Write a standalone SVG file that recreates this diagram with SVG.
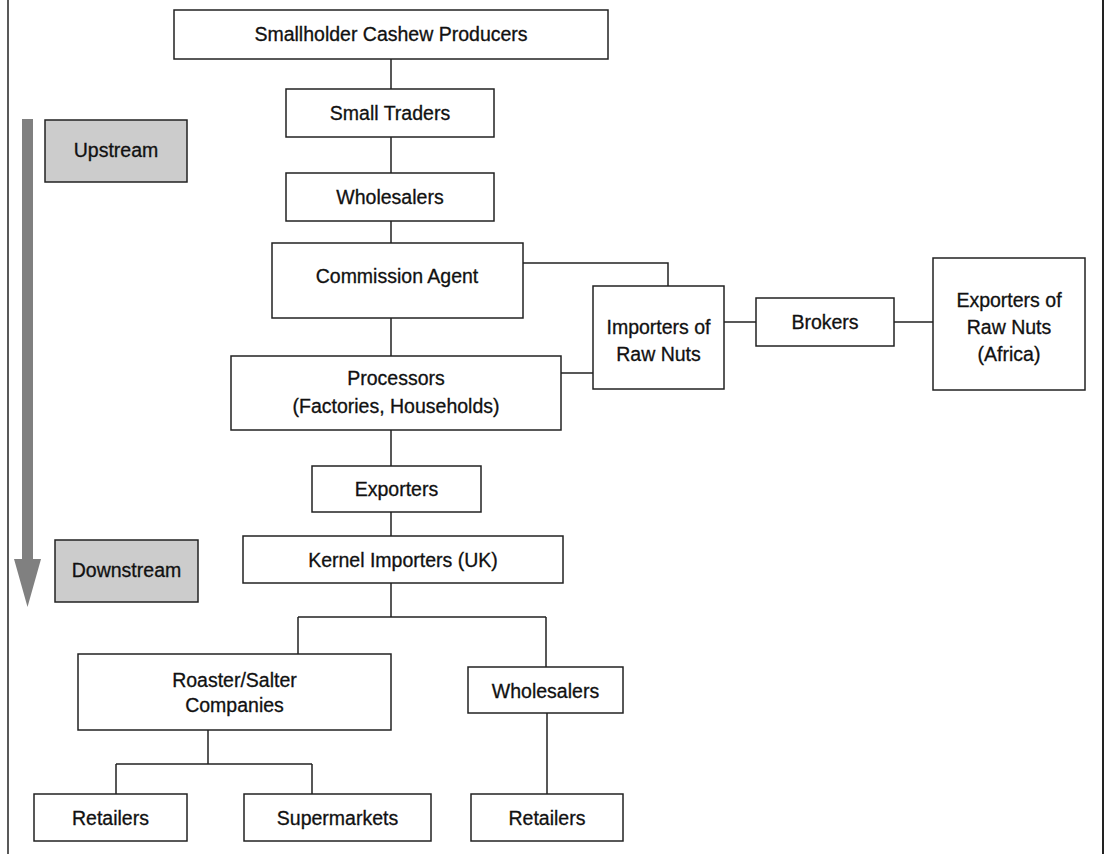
<svg xmlns="http://www.w3.org/2000/svg" width="1105" height="854" viewBox="0 0 1105 854">
<style>
.box{fill:#fff;stroke:#222;stroke-width:1.5}
.tag{fill:#cccccc;stroke:#222;stroke-width:1.5}
.t{font-family:"Liberation Sans",Arial,sans-serif;font-size:19.5px;fill:#111;stroke:#111;stroke-width:0.3;text-anchor:middle}
.c{fill:none;stroke:#222;stroke-width:1.5}
</style>
<rect width="1105" height="854" fill="#fff"/>
<g id="frame">
<line x1="8" y1="0" x2="8" y2="854" stroke="#222" stroke-width="1.5"/>
<line x1="1103" y1="0" x2="1103" y2="854" stroke="#222" stroke-width="2"/>
</g>
<g id="flow-arrow">
<rect x="22" y="119" width="11" height="441" fill="#808080"/>
<polygon points="14,559 41,559 27.5,607" fill="#808080"/>
</g>
<g id="connectors">
<path class="c" d="M391,59V89M391,137V173M391,221V243M391,318V356M523,263H668V286M561,373H593M724,322H756M894,322H933M391,430V466M391,512V536M391,583V617M298,617H546M298,617V654M546,617V667M208,730V764M116,764H312M116,764V794M312,764V794M547,713V794"/>
</g>
<g id="upstream"><rect class="tag" x="45" y="120" width="142" height="62"/><text class="t" x="116" y="157">Upstream</text></g>
<g id="downstream"><rect class="tag" x="55" y="540" width="143" height="62"/><text class="t" x="126.5" y="577">Downstream</text></g>
<g id="smallholder"><rect class="box" x="174" y="10" width="434" height="49"/><text class="t" x="391" y="41">Smallholder Cashew Producers</text></g>
<g id="small-traders"><rect class="box" x="286" y="89" width="208" height="48"/><text class="t" x="390" y="120">Small Traders</text></g>
<g id="wholesalers-1"><rect class="box" x="286" y="173" width="208" height="48"/><text class="t" x="390" y="204">Wholesalers</text></g>
<g id="commission-agent"><rect class="box" x="272" y="243" width="251" height="75"/><text class="t" x="397" y="283">Commission Agent</text></g>
<g id="importers-raw"><rect class="box" x="593" y="286" width="131" height="103"/><text class="t" x="658.5" y="334">Importers of</text><text class="t" x="658.5" y="361">Raw Nuts</text></g>
<g id="brokers"><rect class="box" x="756" y="298" width="138" height="48"/><text class="t" x="825" y="329">Brokers</text></g>
<g id="exporters-africa"><rect class="box" x="933" y="258" width="152" height="132"/><text class="t" x="1009" y="307">Exporters of</text><text class="t" x="1009" y="334">Raw Nuts</text><text class="t" x="1009" y="361">(Africa)</text></g>
<g id="processors"><rect class="box" x="231" y="356" width="330" height="74"/><text class="t" x="396" y="385">Processors</text><text class="t" x="396" y="413">(Factories, Households)</text></g>
<g id="exporters"><rect class="box" x="312" y="466" width="169" height="46"/><text class="t" x="396.5" y="496">Exporters</text></g>
<g id="kernel-importers"><rect class="box" x="243" y="536" width="320" height="47"/><text class="t" x="403" y="567">Kernel Importers (UK)</text></g>
<g id="roaster"><rect class="box" x="78" y="654" width="313" height="76"/><text class="t" x="234.5" y="687">Roaster/Salter</text><text class="t" x="234.5" y="712">Companies</text></g>
<g id="wholesalers-2"><rect class="box" x="468" y="667" width="155" height="46"/><text class="t" x="545.5" y="698">Wholesalers</text></g>
<g id="retailers-1"><rect class="box" x="34" y="794" width="153" height="47"/><text class="t" x="110.5" y="825">Retailers</text></g>
<g id="supermarkets"><rect class="box" x="244" y="794" width="187" height="47"/><text class="t" x="337.5" y="825">Supermarkets</text></g>
<g id="retailers-2"><rect class="box" x="471" y="794" width="152" height="47"/><text class="t" x="547" y="825">Retailers</text></g>
</svg>
